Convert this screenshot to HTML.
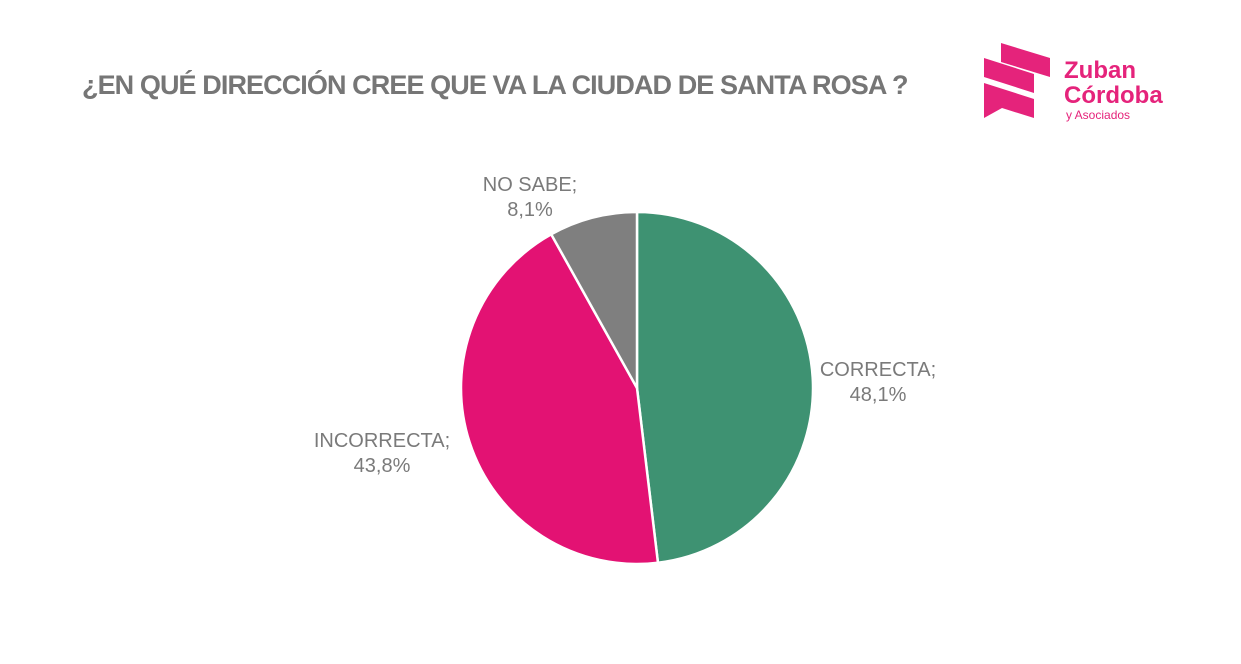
<!DOCTYPE html>
<html><head><meta charset="utf-8"><style>
body{margin:0;width:1241px;height:659px;background:#fff;overflow:hidden;font-family:"Liberation Sans",sans-serif;}
</style></head><body>
<svg width="1241" height="659">
<text x="82" y="94" font-size="27" fill="#767676" font-weight="bold" letter-spacing="-0.5" textLength="826">¿EN QUÉ DIRECCIÓN CREE QUE VA LA CIUDAD DE SANTA ROSA ?</text>
<g fill="#e5237b">
<polygon points="1001,43 1050,58 1050,77 1001,62"/>
<polygon points="984,58 1034,74 1034,93 984,77"/>
<polygon points="984,83 1034,99 1034,118 1002,108 984,118"/>
<text x="1064" y="78" font-size="24" font-weight="bold">Zuban</text>
<text x="1064" y="103" font-size="24" font-weight="bold">Córdoba</text>
<text x="1066" y="119" font-size="12">y Asociados</text>
</g>
<g id="pie"></g>
<g font-size="20" fill="#7a7a7a" text-anchor="middle">
<text x="878" y="376">CORRECTA;</text>
<text x="878" y="401">48,1%</text>
<text x="382" y="447">INCORRECTA;</text>
<text x="382" y="472">43,8%</text>
<text x="530" y="191">NO SABE;</text>
<text x="530" y="216">8,1%</text>
</g>
</svg>
<script>
const categories=["CORRECTA","INCORRECTA","NO SABE"];
const values=[48.1,43.8,8.1];
const colors=["#3e9272","#e31273","#7f7f7f"];
const cx=637,cy=388,r=176;
const g=document.getElementById('pie');
const total=values.reduce((a,b)=>a+b,0);
let a0=0;
values.forEach((v,i)=>{
 const a1=a0+v/total*2*Math.PI;
 const x0=cx+r*Math.sin(a0),y0=cy-r*Math.cos(a0),x1=cx+r*Math.sin(a1),y1=cy-r*Math.cos(a1);
 const p=document.createElementNS('http://www.w3.org/2000/svg','path');
 p.setAttribute('d',`M${cx},${cy}L${x0},${y0}A${r},${r} 0 ${a1-a0>Math.PI?1:0} 1 ${x1},${y1}Z`);
 p.setAttribute('fill',colors[i]);p.setAttribute('stroke','#fff');p.setAttribute('stroke-width','2.5');
 
 
 g.appendChild(p);a0=a1;
});
</script>
</body></html>
